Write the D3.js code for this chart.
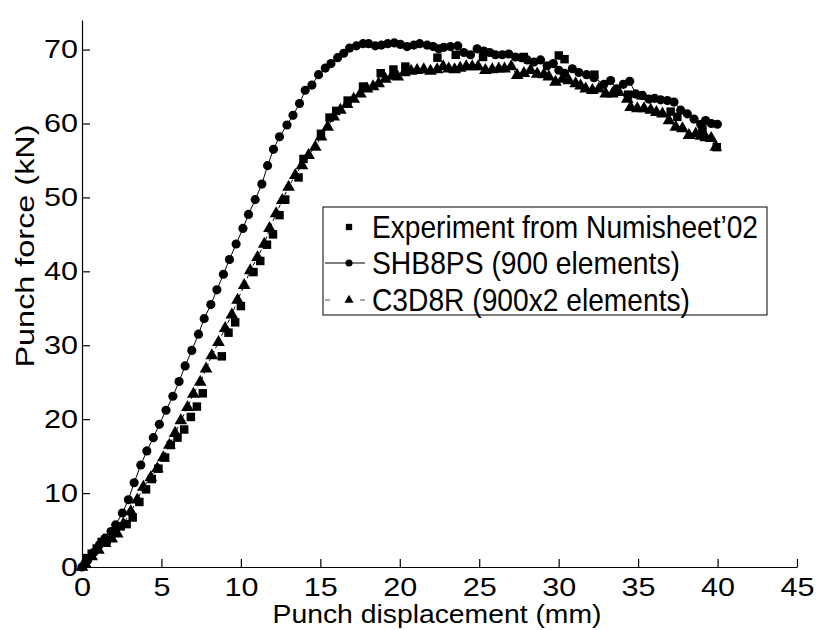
<!DOCTYPE html>
<html>
<head>
<meta charset="utf-8">
<script src="https://cdn.jsdelivr.net/npm/d3@7"></script>
<style>
body{margin:0;background:#fff;}
text{font-family:"Liberation Sans",Arial,sans-serif;fill:#000;}
</style>
</head>
<body>
<div id="chart"></div>
<script>
// experiment (squares)
var expX = [0.30,0.61,0.93,1.24,1.56,1.97,2.44,2.81,3.19,3.61,4.03,4.39,4.81,5.23,5.59,6.01,6.43,6.85,7.23,7.60,
	8.80,9.22,9.64,10.00,10.79,11.22,11.64,12.02,12.43,12.79,13.63,13.94,15.04,15.58,16.00,16.72,17.69,18.80,19.60,20.35,
	22.37,23.52,25.24,27.81,30.01,30.37,32.25,34.37,35.16,37.05,37.47,39.05,39.95];
var expY = [1.2,1.8,2.5,3.4,3.6,4.6,5.5,5.8,6.7,8.8,10.5,11.9,13.3,14.8,16.5,17.5,18.6,20.3,21.7,23.5,
	28.5,31.7,33.1,35.3,39.9,41.4,43.6,45.0,47.6,49.7,52.7,55.2,58.6,60.8,61.7,63.1,65.0,66.8,67.3,67.7,
	68.9,69.3,69.0,69.0,69.2,68.7,66.6,63.9,63.8,61.6,60.9,59.2,56.8];

// SHB8PS (circles, solid)
var shbX = [0,0.35,0.75,1.10,1.45,1.83,2.12,2.54,2.92,3.28,3.70,4.08,4.49,4.87,5.29,5.72,6.11,6.49,6.91,7.33,
	7.69,8.11,8.49,8.90,9.28,9.70,10.13,10.48,10.90,11.32,11.68,12.05,12.43,12.90,13.28,13.69,14.05,14.47,14.89,15.31,
	15.67,16.09,16.47,16.84,17.27,17.69,18.04,18.46,18.84,19.24,19.66,20.04,20.46,20.88,21.25,21.72,22.10,22.45,22.77,23.19,
	23.65,24.03,24.45,24.87,25.29,25.66,26.02,26.45,26.86,27.28,27.66,28.02,28.44,28.86,29.28,29.66,30.01,30.37,30.86,31.27,
	31.76,32.22,32.85,33.27,33.65,34.07,34.47,34.85,35.27,35.68,36.04,36.42,36.84,37.26,37.68,38.10,38.52,38.94,39.25,39.61,39.99];
var shbY = [0,0.9,2.0,3.0,3.9,4.8,5.7,7.3,9.1,11.4,13.8,15.7,17.5,19.3,21.2,23.1,25.1,27.2,29.3,31.5,
	33.6,35.5,37.5,39.6,41.6,43.7,45.8,47.7,49.7,51.8,54.3,56.5,58.2,59.8,61.1,62.7,64.5,65.2,66.6,67.5,
	68.1,68.9,69.5,70.2,70.5,70.8,70.8,70.5,70.6,70.8,70.9,70.7,70.4,70.6,70.8,70.6,70.4,70.1,70.3,70.4,
	70.5,69.6,69.3,70.1,69.8,69.6,69.3,69.3,69.4,69.0,68.9,68.6,68.3,68.6,67.8,68.1,67.2,66.8,67.4,66.9,
	66.6,66.2,65.3,65.8,64.7,65.3,65.7,64.0,63.8,63.3,63.4,63.2,63.1,62.9,61.8,61.3,60.6,59.9,60.4,60.0,59.9];

// C3D8R (triangles, dashed)
var c3dX = [0,0.19,0.61,1.03,1.45,1.87,2.22,2.60,3.07,3.48,3.86,4.33,4.74,5.12,5.50,5.86,6.22,6.64,7.01,7.44,
	7.81,8.17,8.59,9.01,9.43,9.79,10.21,10.59,11.05,11.47,11.80,12.22,12.60,13.00,13.42,13.84,14.26,14.68,15.04,15.46,
	15.84,16.26,16.68,17.10,17.52,17.94,18.32,18.67,19.09,19.51,19.87,20.29,20.71,21.09,21.51,21.93,22.35,22.73,23.08,23.45,
	23.80,24.18,24.56,24.93,25.39,25.82,26.23,26.59,27.01,27.39,27.81,28.23,28.65,29.07,29.38,29.80,30.23,30.64,31.07,31.38,
	31.70,32.12,32.53,32.96,33.38,33.79,34.32,34.53,34.95,35.37,35.79,36.15,36.53,36.94,37.37,37.79,38.20,38.63,38.95,39.26,39.60,39.89];
var c3dY = [0,0.5,1.4,2.3,3.2,3.8,4.5,5.8,7.5,9.1,10.8,12.1,13.3,14.8,16.5,18.1,19.8,21.6,23.4,25.0,
	26.8,28.6,30.4,32.3,34.1,36.1,38.1,40.1,41.9,43.7,45.8,47.8,49.6,51.4,53.0,54.3,55.7,56.8,58.2,59.5,
	60.9,61.8,62.6,63.3,64.0,64.7,65.0,65.4,66.0,66.4,66.3,66.9,67.1,67.2,67.3,67.1,67.3,67.7,67.4,67.3,
	67.5,67.7,67.7,67.7,67.2,67.3,67.4,67.4,67.7,66.5,66.8,67.2,66.7,66.6,66.3,65.6,66.0,65.8,65.4,65.1,
	64.7,64.5,64.7,64.0,64.0,64.2,63.3,62.2,62.0,62.0,61.8,61.5,61.3,60.4,59.5,59.3,58.4,58.6,58.3,58.1,58.0,56.8];

var xTicks = [0,5,10,15,20,25,30,35,40,45];
var yTicks = [0,10,20,30,40,50,60,70];
var legendLabels = ["Experiment from Numisheet\u201902", "SHB8PS (900 elements)", "C3D8R (900x2 elements)"];

var width = 816, height = 630;
var margin = {left:82, right:19, top:20, bottom:63};

var svg = d3.select('#chart').append('svg')
	.attr('width', width).attr('height', height);

var x = d3.scaleLinear().domain([0, 45]).range([margin.left, width - margin.right]);
var y = d3.scaleLinear().domain([0, 74]).range([height - margin.bottom, margin.top]);

function pts(xs, ys){
	return xs.map(function(d, i){ return [d, ys[i]]; });
}
var expData = pts(expX, expY);
var shbData = pts(shbX, shbY);
var c3dData = pts(c3dX, c3dY);

// axes (ticks pointing inward)
var xAxis = svg.append('g')
	.attr('transform', 'translate(0,' + (height - margin.bottom) + ')')
	.call(d3.axisBottom(x).tickValues(xTicks).tickSizeInner(-8).tickSizeOuter(0).tickPadding(11));
var yAxis = svg.append('g')
	.attr('transform', 'translate(' + margin.left + ',0)')
	.call(d3.axisLeft(y).tickValues(yTicks).tickSizeInner(-8).tickSizeOuter(0).tickPadding(4));
svg.selectAll('.domain, .tick line').attr('stroke', '#000').attr('stroke-width', 1.2);
// tick digits in the reference are wider than plain Arial
svg.selectAll('.tick text')
	.attr('font-size', 25)
	.attr('font-family', '"Liberation Sans",Arial,sans-serif')
	.attr('textLength', function(d){ return String(d).length * 17; })
	.attr('lengthAdjust', 'spacingAndGlyphs');

svg.append('text')
	.attr('x', 437).attr('y', 623)
	.attr('text-anchor', 'middle')
	.attr('font-size', 25)
	.attr('textLength', 329).attr('lengthAdjust', 'spacingAndGlyphs')
	.text('Punch displacement (mm)');

svg.append('text')
	.attr('transform', 'translate(34,246) rotate(-90)')
	.attr('text-anchor', 'middle')
	.attr('font-size', 25)
	.attr('textLength', 243).attr('lengthAdjust', 'spacingAndGlyphs')
	.text('Punch force (kN)');

var line = d3.line().x(function(d){ return x(d[0]); }).y(function(d){ return y(d[1]); });

svg.append('path').datum(shbData)
	.attr('d', line).attr('fill', 'none').attr('stroke', '#000').attr('stroke-width', 1);
svg.append('path').datum(c3dData)
	.attr('d', line).attr('fill', 'none').attr('stroke', '#000').attr('stroke-width', 1)
	.attr('stroke-dasharray', '4,3');

var sq = d3.symbol().type(d3.symbolSquare).size(72);
var circ = d3.symbol().type(d3.symbolCircle).size(66);
var tri = d3.symbol().type(d3.symbolTriangle).size(70);

svg.append('g').selectAll('path').data(expData).enter().append('path')
	.attr('d', sq).attr('fill', '#000')
	.attr('transform', function(d){ return 'translate(' + [x(d[0]), y(d[1])] + ')'; });
svg.append('g').selectAll('path').data(shbData).enter().append('path')
	.attr('d', circ).attr('fill', '#000')
	.attr('transform', function(d){ return 'translate(' + [x(d[0]), y(d[1])] + ')'; });
svg.append('g').selectAll('path').data(c3dData).enter().append('path')
	.attr('d', tri).attr('fill', '#000')
	.attr('transform', function(d){ return 'translate(' + [x(d[0]), y(d[1])] + ')'; });

// legend
var lg = svg.append('g').attr('transform', 'translate(323,207)');
lg.append('rect').attr('width', 444).attr('height', 108)
	.attr('fill', '#fff').attr('stroke', '#000').attr('stroke-width', 1);
var rowY = [20, 56, 93];
var textW = [386, 308, 318];
var rows = lg.selectAll('.legend-row').data(legendLabels).enter().append('g')
	.attr('class', 'legend-row')
	.attr('transform', function(d, i){ return 'translate(0,' + rowY[i] + ')'; });
rows.append('text')
	.attr('x', 49).attr('y', 11)
	.attr('font-size', 32)
	.attr('textLength', function(d, i){ return textW[i]; })
	.attr('lengthAdjust', 'spacingAndGlyphs')
	.text(function(d){ return d; });
rows.filter(function(d, i){ return i == 1; }).append('line')
	.attr('x1', 2).attr('x2', 42).attr('stroke', '#000').attr('stroke-width', 1);
rows.filter(function(d, i){ return i == 2; }).append('line')
	.attr('x1', 2).attr('x2', 42).attr('stroke', '#555').attr('stroke-width', 1)
	.attr('stroke-dasharray', '5,30');
rows.append('path')
	.attr('transform', 'translate(26,0)')
	.attr('fill', '#000')
	.attr('d', function(d, i){
		return [d3.symbol().type(d3.symbolSquare).size(40), d3.symbol().type(d3.symbolCircle).size(40),
			d3.symbol().type(d3.symbolTriangle).size(36)][i]();
	});
</script>
</body>
</html>
